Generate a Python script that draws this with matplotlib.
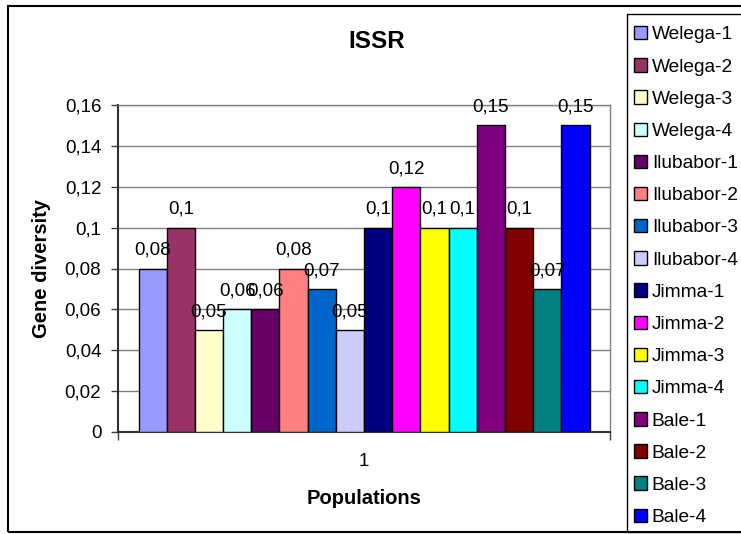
import numpy as np
import matplotlib.pyplot as plt
from matplotlib.patches import Rectangle

plt.rcParams['font.family'] = ['Liberation Sans', 'DejaVu Sans']

populations = ['Welega-1', 'Welega-2', 'Welega-3', 'Welega-4',
               'Ilubabor-1', 'Ilubabor-2', 'Ilubabor-3', 'Ilubabor-4',
               'Jimma-1', 'Jimma-2', 'Jimma-3', 'Jimma-4',
               'Bale-1', 'Bale-2', 'Bale-3', 'Bale-4']
diversity = [0.08, 0.10, 0.05, 0.06, 0.06, 0.08, 0.07, 0.05,
             0.10, 0.12, 0.10, 0.10, 0.15, 0.10, 0.07, 0.15]
value_labels = ['0,08', '0,1', '0,05', '0,06', '0,06', '0,08', '0,07', '0,05',
                '0,1', '0,12', '0,1', '0,1', '0,15', '0,1', '0,07', '0,15']
colors = ['#9999FF', '#993366', '#FFFFCC', '#CCFFFF',
          '#660066', '#FF8080', '#0066CC', '#CCCCFF',
          '#000080', '#FF00FF', '#FFFF00', '#00FFFF',
          '#800080', '#800000', '#008080', '#0000FF']
yticks = [0, 0.02, 0.04, 0.06, 0.08, 0.1, 0.12, 0.14, 0.16]
ytick_labels = ['0', '0,02', '0,04', '0,06', '0,08', '0,1', '0,12', '0,14', '0,16']

W, H = 741, 534
fig = plt.figure(figsize=(W / 100, H / 100), dpi=100)

# outer chart frame and legend frame
fig.patches.append(Rectangle((8 / W, 1 - 532 / H), 760 / W, 526 / H,
                             transform=fig.transFigure, fill=False,
                             edgecolor='black', linewidth=1.5))
fig.patches.append(Rectangle((627 / W, 1 - 532 / H), 200 / W, 518 / H,
                             transform=fig.transFigure, fill=False,
                             edgecolor='black', linewidth=1.0))

ax = fig.add_axes([118 / W, 1 - 432 / H, 492 / W, 327 / H])

n = len(diversity)
w = 451 / 492 / n
x = 1 + (np.arange(n) - (n - 1) / 2) * w
bars = ax.bar(x, diversity, width=w, color=colors, edgecolor='black',
              linewidth=1.0, label=populations, zorder=3)

for xi, v, lab in zip(x, diversity, value_labels):
    ax.annotate(lab, (xi, v), xytext=(0, 7), textcoords='offset points',
                ha='center', va='bottom', fontsize=13.5, zorder=4)

ax.set_xlim(0.5, 1.5)
ax.set_ylim(0, 0.16)
ax.set_yticks(yticks)
ax.set_yticklabels(ytick_labels, fontsize=13.5)
ax.yaxis.grid(True, color='#808080', linewidth=1.0, zorder=0)
ax.tick_params(axis='y', direction='out', length=5, width=1, color='#404040', pad=7)

ax.set_xticks([1])
ax.set_xticklabels(['1'], fontsize=13.5)
ax.set_xticks([0.5, 1.5], minor=True)
ax.tick_params(axis='x', which='major', length=0, pad=15)
ax.tick_params(axis='x', which='minor', direction='out', length=6, width=1, color='#404040')

for side in ['left', 'bottom']:
    ax.spines[side].set_color('#303030')
    ax.spines[side].set_linewidth(1.5)
for side in ['top', 'right']:
    ax.spines[side].set_color('#808080')
    ax.spines[side].set_linewidth(1.0)

ax.set_xlabel('Populations', fontsize=14.5, fontweight='bold', labelpad=14)
ax.set_ylabel('Gene diversity', fontsize=14.5, fontweight='bold', labelpad=10)
fig.text(377 / W, 1 - 41 / H, 'ISSR', ha='center', va='center',
         fontsize=17.5, fontweight='bold')

fig.legend(handles=bars.patches, labels=populations, loc='upper left',
           bbox_to_anchor=(634 / W, 1 - 26 / H), frameon=False,
           fontsize=13.8, handlelength=0.7, handleheight=0.7,
           handletextpad=0.23, labelspacing=0.77, borderaxespad=0,
           borderpad=0)

fig.savefig('out.png', dpi=100)
